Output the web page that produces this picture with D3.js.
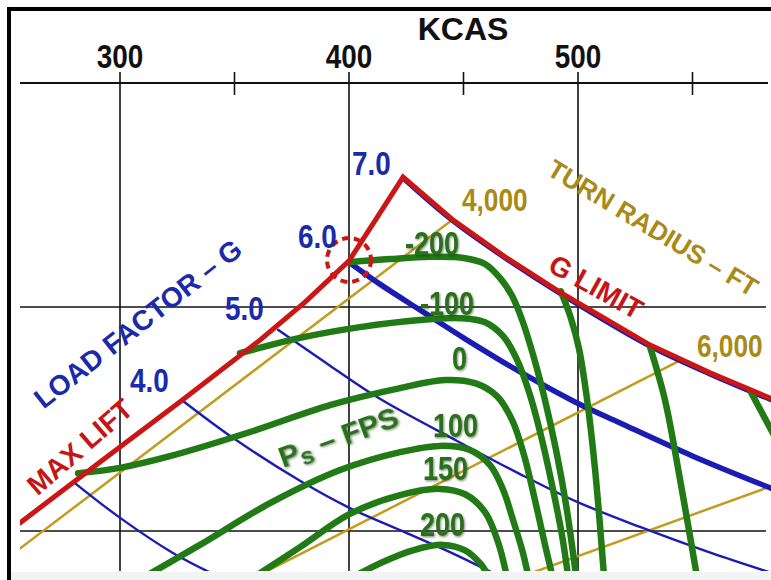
<!DOCTYPE html>
<html>
<head>
<meta charset="utf-8">
<script src="https://cdn.jsdelivr.net/npm/d3@7"></script>
<style>
  html, body { margin: 0; padding: 0; background: #ffffff; }
  svg { display: block; }
  text { font-family: "Liberation Sans", Arial, sans-serif; font-weight: bold; }
</style>
</head>
<body>
<svg id="chart" width="771" height="580"></svg>
<script>
// ---- axis values ----
const kcasTicks = [300, 400, 500];
const kcasMinorTicks = [350, 450, 550];
const turnRateGrid = [10, 15];
const turnRateTop = 20;

// ---- envelope: [KCAS, turn rate deg/s] ----
const maxLiftBoundary = [
  [256.3, 10.18], [291.3, 11.54], [327.1, 12.92], [361.1, 14.26],
  [380.8, 15.11], [400.0, 16.03], [411.8, 16.96], [423.6, 17.90]
];
const gLimitBoundary = [
  [423.6, 17.90], [445.0, 16.96], [468.1, 16.12], [492.1, 15.33],
  [531.5, 14.15], [557.7, 13.53], [586.0, 12.92]
];

// ---- load factor lines ----
const loadFactor7 = [
  [423.6, 17.84], [445.0, 16.90], [468.1, 16.06], [492.1, 15.27],
  [531.5, 14.09], [557.7, 13.47], [586.0, 12.86]
];
const loadFactor6 = [
  [400.0, 16.00], [413.5, 15.51], [432.3, 14.89], [450.7, 14.29], [474.7, 13.55],
  [498.7, 12.88], [518.4, 12.41], [550.2, 11.67], [586.0, 10.92]
];
const loadFactor5 = [
  [369.0, 14.49], [391.7, 13.69], [413.5, 12.95], [447.2, 12.01], [474.7, 11.27],
  [499.6, 10.65], [527.1, 10.09], [558.1, 9.51], [586.0, 9.04]
];
const loadFactor4 = [
  [327.1, 12.92], [349.3, 12.08], [378.6, 11.12], [400.4, 10.51],
  [422.3, 10.02], [444.1, 9.53], [463.8, 9.04]
];
const loadFactor3 = [
  [280.3, 11.07], [299.6, 10.31], [323.1, 9.51], [341.5, 9.02]
];

// ---- turn radius lines (ft) ----
const radius4000 = [[252.0, 9.44], [445.0, 16.94]];
const radius6000 = [[359.0, 8.97], [545.9, 13.84]];
const radius8000 = [[474.7, 8.97], [586.0, 11.03]];

// ---- specific excess power contours (ft/s) ----
const psMinus200 = [
  [400.0, 16.00], [417.9, 16.07], [435.4, 16.12], [450.7, 16.09], [459.4, 15.96],
  [465.9, 15.65], [471.2, 15.25], [475.6, 14.71], [480.4, 13.93], [485.6, 12.92],
  [490.4, 11.81], [494.8, 10.58], [499.1, 9.02]
];
const psMinus100 = [
  [352.4, 13.97], [378.6, 14.31], [404.8, 14.55], [431.0, 14.71], [448.5, 14.75],
  [459.4, 14.66], [467.3, 14.35], [473.4, 13.82], [479.0, 13.04], [484.3, 12.03],
  [489.1, 10.92], [493.0, 9.91], [495.6, 9.02]
];
const ps0 = [
  [281.7, 11.29], [300.0, 11.41], [321.8, 11.67], [356.8, 12.21], [391.7, 12.81],
  [422.3, 13.19], [441.9, 13.37], [455.0, 13.30], [464.6, 13.01], [471.2, 12.48],
  [476.4, 11.70], [481.2, 10.69], [485.6, 9.69], [488.7, 9.02]
];
const ps100 = [
  [312.2, 9.02], [334.9, 9.69], [365.5, 10.62], [396.1, 11.36], [422.3, 11.76],
  [439.7, 11.90], [452.8, 11.81], [461.6, 11.47], [467.3, 10.92], [471.6, 10.25],
  [475.6, 9.58], [478.2, 9.02]
];
const ps150 = [
  [358.5, 8.97], [378.6, 9.64], [400.4, 10.38], [422.3, 10.80], [439.7, 10.94],
  [450.7, 10.82], [459.4, 10.42], [465.1, 9.75], [469.0, 8.97]
];
const ps200 = [
  [401.7, 8.97], [414.8, 9.31], [427.9, 9.57], [441.0, 9.69], [450.7, 9.57],
  [457.6, 9.26], [461.1, 8.97]
];
const psMinus300 = [
  [492.5, 15.35], [496.9, 14.75], [500.4, 14.08], [503.9, 12.96], [507.4, 11.40], [511.4, 8.97]
];
const psMinus400 = [
  [531.5, 14.10], [538.0, 12.92], [544.6, 11.14], [552.0, 8.97]
];
const psMinus500 = [
  [575.3, 13.12], [586.0, 12.10]
];

// ---- layout ----
const W = 771, H = 580;
const NARROW = 0.82;
const svg = d3.select("#chart");

const x = d3.scaleLinear().domain([300, 550]).range([120, 692.5]);
const y = d3.scaleLinear().domain([10, 20]).range([531, 83]);

const line = d3.line().x(d => x(d[0])).y(d => y(d[1]));
const smooth = d3.line().x(d => x(d[0])).y(d => y(d[1])).curve(d3.curveCatmullRom.alpha(0.5));

const defs = svg.append("defs");
defs.append("clipPath").attr("id", "plotClip")
  .append("rect").attr("x", 20).attr("y", 60).attr("width", W - 20).attr("height", 511);
const shadow = defs.append("filter").attr("id", "txtShadow")
  .attr("x", "-20%").attr("y", "-20%").attr("width", "140%").attr("height", "140%");
shadow.append("feDropShadow").attr("dx", 1.2).attr("dy", 1.2).attr("stdDeviation", 1)
  .attr("flood-color", "#0b3306").attr("flood-opacity", 0.55);

// condensed bold text: placed at (px, py), optional rotation, squeezed horizontally
function narrowText(parent, str, px, py, size, fill, opts = {}) {
  const g = parent.append("g")
    .attr("transform", `translate(${px},${py}) rotate(${opts.rotate || 0}) scale(${NARROW},1)`);
  const t = g.append("text").attr("font-size", size).attr("fill", fill)
    .attr("text-anchor", opts.anchor || "start").text(str);
  if (opts.filter) t.attr("filter", opts.filter);
  return t;
}

// page background strip and frame
svg.append("rect").attr("x", 0).attr("y", 0).attr("width", W).attr("height", H).attr("fill", "#ffffff");
svg.append("rect").attr("x", 11).attr("y", 572).attr("width", W - 11).attr("height", 8).attr("fill", "#f3f3f3");
svg.append("rect").attr("x", 7).attr("y", 7).attr("width", W - 7).attr("height", 4).attr("fill", "#000");
svg.append("rect").attr("x", 7).attr("y", 7).attr("width", 4).attr("height", H - 7).attr("fill", "#000");

// grid and axis
const grid = svg.append("g").attr("stroke", "#111").attr("stroke-width", 1.6);
grid.selectAll("line.v").data(kcasTicks).join("line")
  .attr("x1", d => x(d)).attr("x2", d => x(d)).attr("y1", 72).attr("y2", 571);
grid.selectAll("line.m").data(kcasMinorTicks).join("line")
  .attr("x1", d => x(d)).attr("x2", d => x(d)).attr("y1", 72).attr("y2", 95);
grid.selectAll("line.h").data(turnRateGrid).join("line")
  .attr("x1", 20).attr("x2", 766).attr("y1", d => y(d)).attr("y2", d => y(d));
grid.append("line").attr("x1", 20).attr("x2", 768).attr("y1", y(turnRateTop)).attr("y2", y(turnRateTop))
  .attr("stroke-width", 2);

kcasTicks.forEach(k => narrowText(svg, String(k), x(k), 68, 34, "#111", {anchor: "middle"}));
svg.append("text").attr("x", 463).attr("y", 40)
  .attr("text-anchor", "middle").attr("font-size", 32).attr("fill", "#111").text("KCAS");

const plot = svg.append("g").attr("clip-path", "url(#plotClip)").attr("fill", "none")
  .attr("stroke-linecap", "round").attr("stroke-linejoin", "round");

// turn radius lines
const gold = "#c39b1f";
[radius4000, radius6000, radius8000].forEach(d => {
  plot.append("path").attr("d", line(d)).attr("stroke", gold).attr("stroke-width", 2.5);
});

// load factor lines
const blue = "#1b1db2";
[loadFactor3, loadFactor4, loadFactor5, loadFactor7].forEach(d => {
  plot.append("path").attr("d", smooth(d)).attr("stroke", blue).attr("stroke-width", 2.4);
});
plot.append("path").attr("d", smooth(loadFactor6)).attr("stroke", blue).attr("stroke-width", 5.5);

// Ps contours
const green = "#217a16";
[psMinus200, psMinus100, ps0, ps100, ps150, ps200, psMinus300, psMinus400, psMinus500].forEach(d => {
  plot.append("path").attr("d", smooth(d)).attr("stroke", green).attr("stroke-width", 6.5);
});

// envelope
const red = "#cc1515";
plot.append("path").attr("d", line(maxLiftBoundary.concat(gLimitBoundary.slice(1))))
  .attr("stroke", red).attr("stroke-width", 5).attr("stroke-linejoin", "miter");

// corner speed marker
svg.append("circle").attr("cx", x(400)).attr("cy", y(16.05)).attr("r", 22)
  .attr("fill", "none").attr("stroke", red).attr("stroke-width", 4).attr("stroke-dasharray", "7 5");

// labels
const blueText = "#1a2aaa";
const goldText = "#a98a17";
const greenText = "#2a6f1e";
const redText = "#c41616";

[["7.0", 352, 175], ["6.0", 298, 248], ["5.0", 225, 320], ["4.0", 130, 392]]
  .forEach(([t, px, py]) => narrowText(svg, t, px, py, 34, blueText));

svg.append("text").attr("font-size", 28).attr("fill", blueText)
  .attr("text-anchor", "middle").attr("dominant-baseline", "central")
  .attr("transform", "translate(138,324) rotate(-38)").text("LOAD FACTOR \u2013 G");
svg.append("text").attr("font-size", 28).attr("fill", redText)
  .attr("text-anchor", "middle").attr("dominant-baseline", "central")
  .attr("transform", "translate(80,447) rotate(-41)").text("MAX LIFT");
svg.append("text").attr("font-size", 28).attr("fill", redText)
  .attr("text-anchor", "middle").attr("dominant-baseline", "central")
  .attr("transform", "translate(596,287) rotate(29)").text("G LIMIT");
svg.append("text").attr("font-size", 26).attr("fill", goldText)
  .attr("text-anchor", "middle").attr("dominant-baseline", "central")
  .attr("transform", "translate(653,228) rotate(31)").text("TURN RADIUS \u2013 FT");

narrowText(svg, "4,000", 462, 211, 32, goldText);
narrowText(svg, "6,000", 697, 357, 32, goldText);

[["-200", 405, 255], ["-100", 420, 315], ["0", 452, 370],
 ["100", 433, 437], ["150", 423, 480], ["200", 420, 536]]
  .forEach(([t, px, py]) => narrowText(svg, t, px, py, 33, greenText, {filter: "url(#txtShadow)"}));

const psTitle = svg.append("text").attr("font-size", 30).attr("fill", greenText)
  .attr("filter", "url(#txtShadow)")
  .attr("transform", "translate(283,468) rotate(-20)");
psTitle.append("tspan").text("P");
psTitle.append("tspan").attr("font-size", 24).attr("dy", 5).text("s");
psTitle.append("tspan").attr("dy", -5).text(" \u2013 FPS");
</script>
</body>
</html>
